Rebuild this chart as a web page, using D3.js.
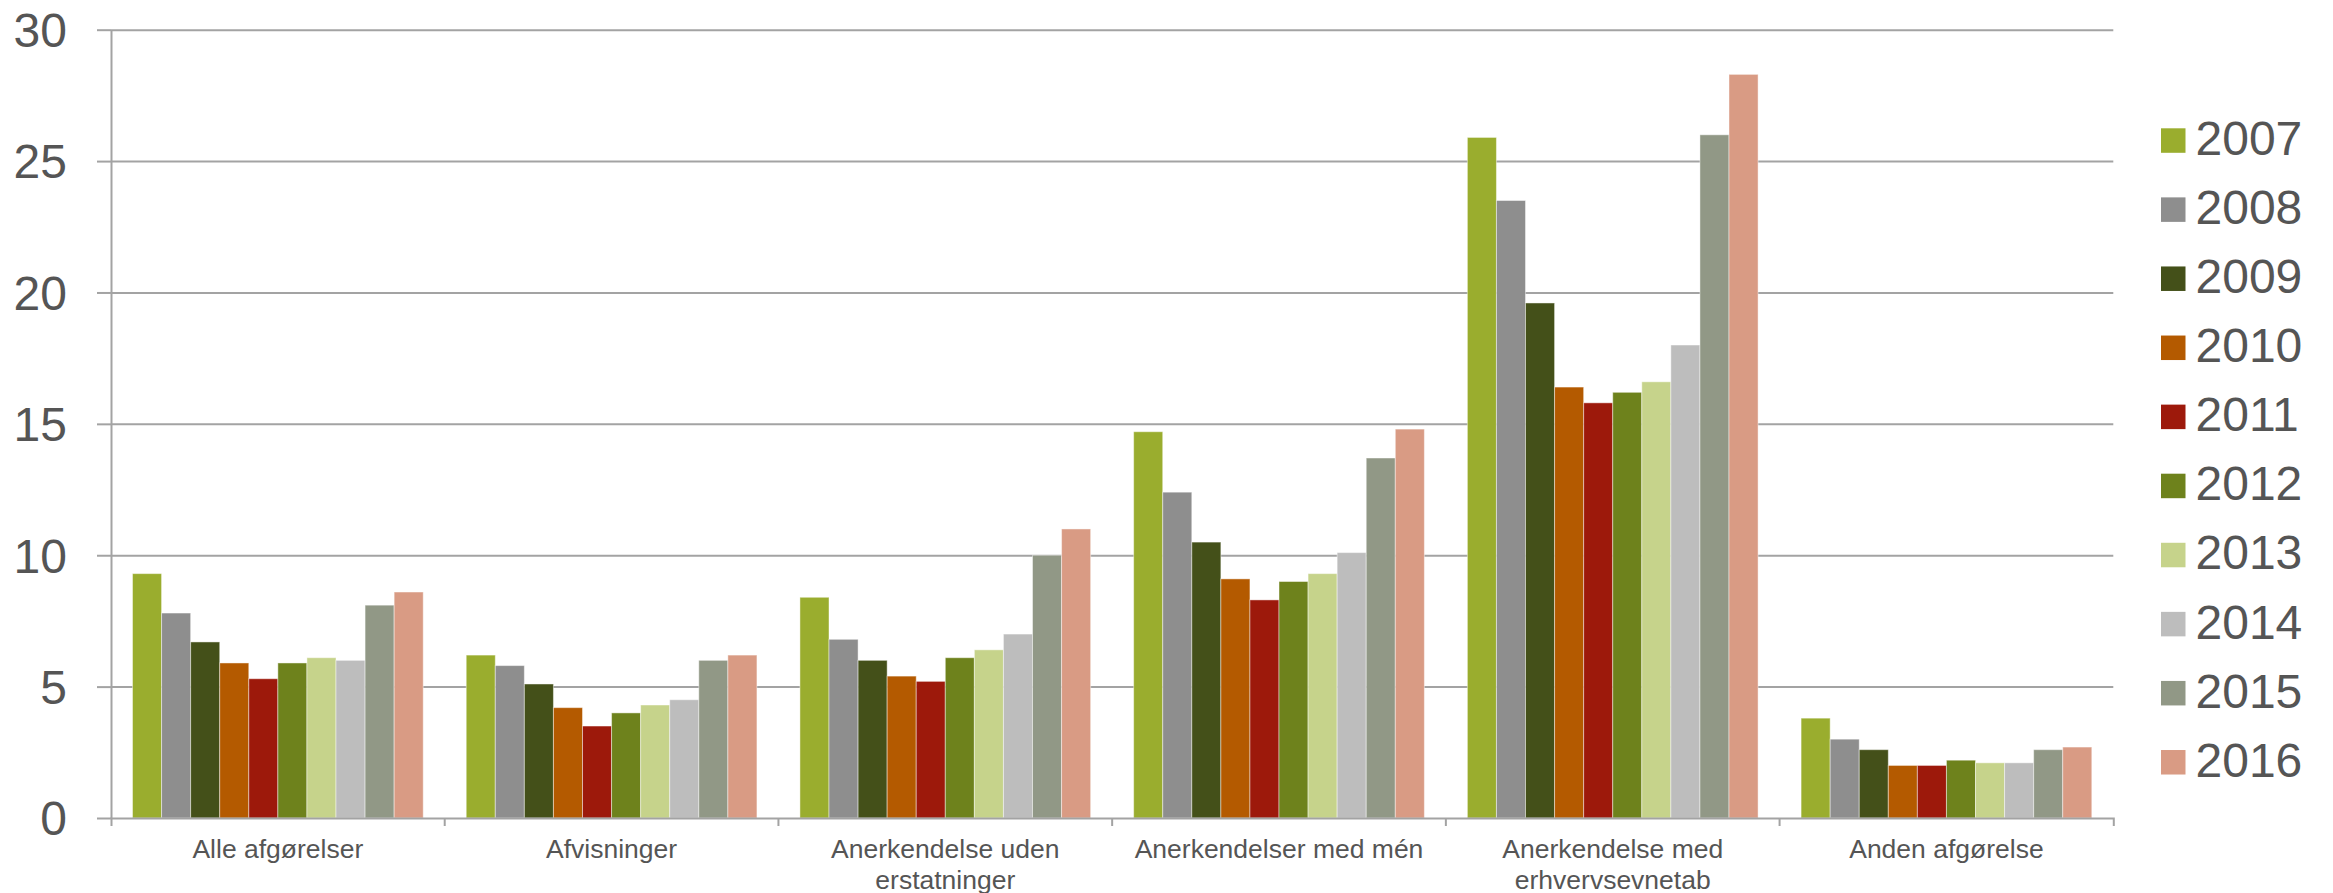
<!DOCTYPE html>
<html>
<head>
<meta charset="utf-8">
<script src="https://cdn.jsdelivr.net/npm/d3@7"></script>
<style>
  html, body { margin: 0; padding: 0; background: #ffffff; }
  svg { display: block; }
  text { font-family: "Liberation Sans", Arial, sans-serif; fill: #555555; }
</style>
</head>
<body>
<svg id="chart" width="2333" height="893"></svg>
<script>
const categories = [
  "Alle afgørelser",
  "Afvisninger",
  "Anerkendelse uden\nerstatninger",
  "Anerkendelser med mén",
  "Anerkendelse med\nerhvervsevnetab",
  "Anden afgørelse"
];
const years = ["2007","2008","2009","2010","2011","2012","2013","2014","2015","2016"];
const colors = ["#9aad2e","#8e8e8e","#445019","#b45a00","#9d190b","#6e821c","#c6d38b","#bdbdbd","#919886","#d99b84"];
const values2007 = [9.3, 6.2, 8.4, 14.7, 25.9, 3.8];
const values2008 = [7.8, 5.8, 6.8, 12.4, 23.5, 3.0];
const values2009 = [6.7, 5.1, 6.0, 10.5, 19.6, 2.6];
const values2010 = [5.9, 4.2, 5.4, 9.1, 16.4, 2.0];
const values2011 = [5.3, 3.5, 5.2, 8.3, 15.8, 2.0];
const values2012 = [5.9, 4.0, 6.1, 9.0, 16.2, 2.2];
const values2013 = [6.1, 4.3, 6.4, 9.3, 16.6, 2.1];
const values2014 = [6.0, 4.5, 7.0, 10.1, 18.0, 2.1];
const values2015 = [8.1, 6.0, 10.0, 13.7, 26.0, 2.6];
const values2016 = [8.6, 6.2, 11.0, 14.8, 28.3, 2.7];
const yTicks = [0, 5, 10, 15, 20, 25, 30];

const series = [values2007, values2008, values2009, values2010, values2011,
                values2012, values2013, values2014, values2015, values2016];

const svg = d3.select("#chart");
const plotLeft = 111, plotRight = 2113.3, plotTop = 29.7, plotBottom = 818;

const x0 = d3.scaleBand().domain(categories).range([plotLeft, plotRight]).paddingInner(0).paddingOuter(0);
const gPad = 21.5;
const x1 = d3.scaleBand().domain(years).range([gPad, x0.bandwidth() - gPad]).padding(0);
const y = d3.scaleLinear().domain([0, 30]).range([plotBottom, plotTop]);
const color = d3.scaleOrdinal().domain(years).range(colors);

// gridlines
svg.append("g")
  .attr("transform", `translate(${plotLeft},0)`)
  .call(d3.axisLeft(y).tickValues(yTicks.filter(d => d > 0)).tickSize(-(plotRight - plotLeft)).tickFormat(""))
  .call(g => g.select(".domain").remove())
  .call(g => g.selectAll("line").attr("stroke", "#a3a3a3").attr("stroke-width", 2));

// bars
const groups = svg.append("g").selectAll("g")
  .data(categories)
  .join("g")
  .attr("transform", d => `translate(${x0(d)},0)`);

groups.selectAll("rect")
  .data((c, ci) => years.map((yr, yi) => ({ year: yr, value: series[yi][ci] })))
  .join("rect")
  .attr("x", d => x1(d.year))
  .attr("width", x1.bandwidth())
  .attr("y", d => y(d.value))
  .attr("height", d => y(0) - y(d.value))
  .attr("fill", d => color(d.year))
  .attr("stroke", "rgba(255,255,255,0.45)")
  .attr("stroke-width", 1);

// y axis
svg.append("g")
  .attr("transform", `translate(${plotLeft},0)`)
  .call(d3.axisLeft(y).tickValues(yTicks).tickSize(14).tickPadding(30).tickSizeOuter(0))
  .call(g => g.select(".domain").attr("stroke", "#a3a3a3").attr("stroke-width", 2))
  .call(g => g.selectAll("line").attr("stroke", "#a3a3a3").attr("stroke-width", 2))
  .call(g => g.selectAll("text")
    .style("font-family", '"Liberation Sans", Arial, sans-serif')
    .style("font-size", "48px")
    .attr("fill", "#555555")
    .attr("dy", "0.35em"));

// x axis
const xAxisG = svg.append("g")
  .attr("transform", `translate(0,${plotBottom})`)
  .call(d3.axisBottom(x0).tickSize(0).tickSizeOuter(8).tickFormat(""))
  .call(g => g.select(".domain").attr("stroke", "#a3a3a3").attr("stroke-width", 2));

// boundary ticks between categories
xAxisG.append("g").selectAll("line")
  .data(categories.slice(1))
  .join("line")
  .attr("x1", d => x0(d)).attr("x2", d => x0(d))
  .attr("y1", 0).attr("y2", 8)
  .attr("stroke", "#a3a3a3").attr("stroke-width", 2);

// category labels
xAxisG.selectAll(".tick").each(function(d) {
  const t = d3.select(this).append("text")
    .attr("text-anchor", "middle")
    .attr("y", 39.5)
    .style("font-family", '"Liberation Sans", Arial, sans-serif')
    .style("font-size", "26.5px")
    .attr("fill", "#555555");
  d.split("\n").forEach((line, i) => {
    t.append("tspan").attr("x", 0).attr("dy", i === 0 ? 0 : 31).text(line);
  });
});

// legend
const legend = svg.append("g").attr("transform", "translate(2161,128.3)");
const item = legend.selectAll("g")
  .data(years)
  .join("g")
  .attr("transform", (d, i) => `translate(0,${i * 69.08})`);
item.append("rect")
  .attr("width", 24.5).attr("height", 24.5)
  .attr("fill", d => color(d));
item.append("text")
  .attr("x", 34.5)
  .attr("y", 26.7)
  .style("font-family", '"Liberation Sans", Arial, sans-serif')
  .style("font-size", "48px")
  .attr("fill", "#555555")
  .text(d => d);
</script>
</body>
</html>
